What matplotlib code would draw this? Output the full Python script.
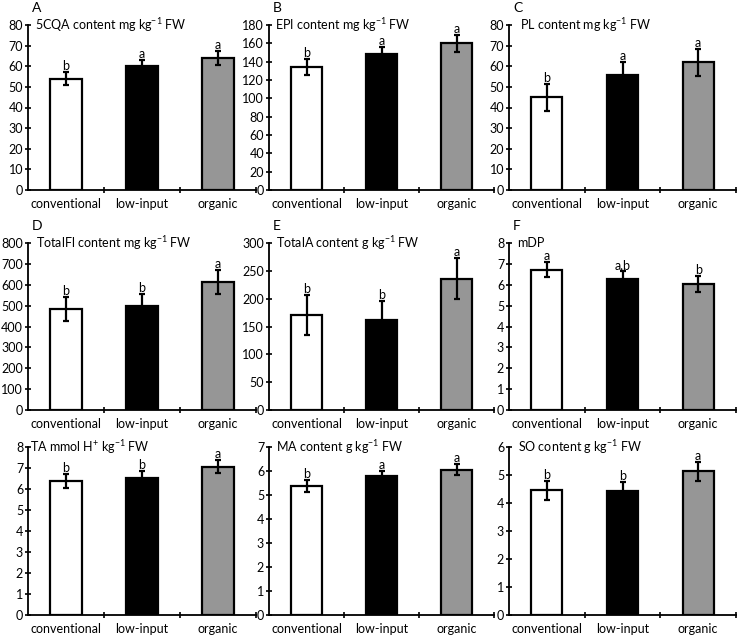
import matplotlib
matplotlib.use("Agg")
import matplotlib.pyplot as plt
import numpy as np

plt.rcParams['font.family'] = ['Lato', 'DejaVu Sans']
plt.rcParams['mathtext.default'] = 'regular'

CATEGORIES = ["conventional", "low-input", "organic"]
COLORS = ["white", "black", "#969696"]

PANELS = ["A", "B", "C", "D", "E", "F", "", "", ""]
TITLES = [
    "5CQA content mg kg$^{-1}$ FW",
    "EPI content mg kg$^{-1}$ FW",
    "PL content mg kg$^{-1}$ FW",
    "TotalFl content mg kg$^{-1}$ FW",
    "TotalA content g kg$^{-1}$ FW",
    "mDP",
    "TA mmol H$^{+}$ kg$^{-1}$ FW",
    "MA content g kg$^{-1}$ FW",
    "SO content g kg$^{-1}$ FW",
]
MEANS = [
    [54, 60, 64],
    [134, 148, 160],
    [45, 56, 62],
    [485, 500, 612],
    [170, 161, 236],
    [6.73, 6.26, 6.05],
    [6.4, 6.53, 7.07],
    [5.38, 5.8, 6.05],
    [4.45, 4.42, 5.14],
]
ERRORS = [
    [3.3, 3, 3.2],
    [9, 8, 9],
    [6.5, 6, 6.5],
    [57, 58, 57],
    [36, 35, 37],
    [0.38, 0.4, 0.38],
    [0.33, 0.32, 0.33],
    [0.24, 0.2, 0.23],
    [0.33, 0.32, 0.34],
]
LETTERS = [
    ["b", "a", "a"],
    ["b", "a", "a"],
    ["b", "a", "a"],
    ["b", "b", "a"],
    ["b", "b", "a"],
    ["a", "a,b", "b"],
    ["b", "b", "a"],
    ["b", "a", "a"],
    ["b", "b", "a"],
]
YMAX = [80, 180, 80, 800, 300, 8, 8, 7, 6]
YSTEP = [10, 20, 10, 100, 50, 1, 1, 1, 1]

W, H = 743, 637
fig = plt.figure(figsize=(W / 100, H / 100), dpi=100)

cols = [(28, 256), (269, 494), (509, 736)]
rows = [(25, 190), (243, 410), (447, 615)]
title_dx = [7, 6, 11, 8, 7, 8, 2, 7, 9]

x = np.arange(len(CATEGORIES))
for i in range(9):
    r, c = divmod(i, 3)
    x0, x1 = cols[c]
    y0, y1 = rows[r]
    ax = fig.add_axes([x0 / W, 1 - y1 / H, (x1 - x0) / W, (y1 - y0) / H])
    ax.bar(x, MEANS[i], width=0.41, color=COLORS, edgecolor="black",
           linewidth=1.6, zorder=2)
    ax.errorbar(x, MEANS[i], yerr=ERRORS[i], fmt="none", ecolor="black",
                elinewidth=1.6, capsize=2.5, capthick=1.6, zorder=3)
    for xi, m, e, lab in zip(x, MEANS[i], ERRORS[i], LETTERS[i]):
        ax.text(xi, m + e, lab, ha="center", va="bottom", fontsize=9)
    ax.set_xlim(-0.5, 2.5)
    ax.set_ylim(0, YMAX[i])
    ax.set_yticks(np.arange(0, YMAX[i] + YSTEP[i] / 2, YSTEP[i]))
    ax.set_xticks(x)
    ax.set_xticklabels(CATEGORIES, fontsize=9)
    ax.set_xticks([0.5, 1.5, 2.5], minor=True)
    ax.tick_params(axis="x", which="major", length=0, pad=6)
    ax.tick_params(axis="x", which="minor", length=5, direction="inout", width=1.2)
    ax.tick_params(axis="y", length=5, direction="inout", width=1.2,
                   labelsize=9, pad=1)
    for s in ["top", "right"]:
        ax.spines[s].set_visible(False)
    for s in ["left", "bottom"]:
        ax.spines[s].set_linewidth(1.3)
    ax.text(title_dx[i] / (x1 - x0), 1.0, TITLES[i], transform=ax.transAxes,
            ha="left", va="center", fontsize=9)
    if PANELS[i]:
        ax.text(4 / (x1 - x0), 1.0 + 17 / (y1 - y0), PANELS[i],
                transform=ax.transAxes, ha="left", va="center", fontsize=10)

fig.savefig("out.png", dpi=100)
